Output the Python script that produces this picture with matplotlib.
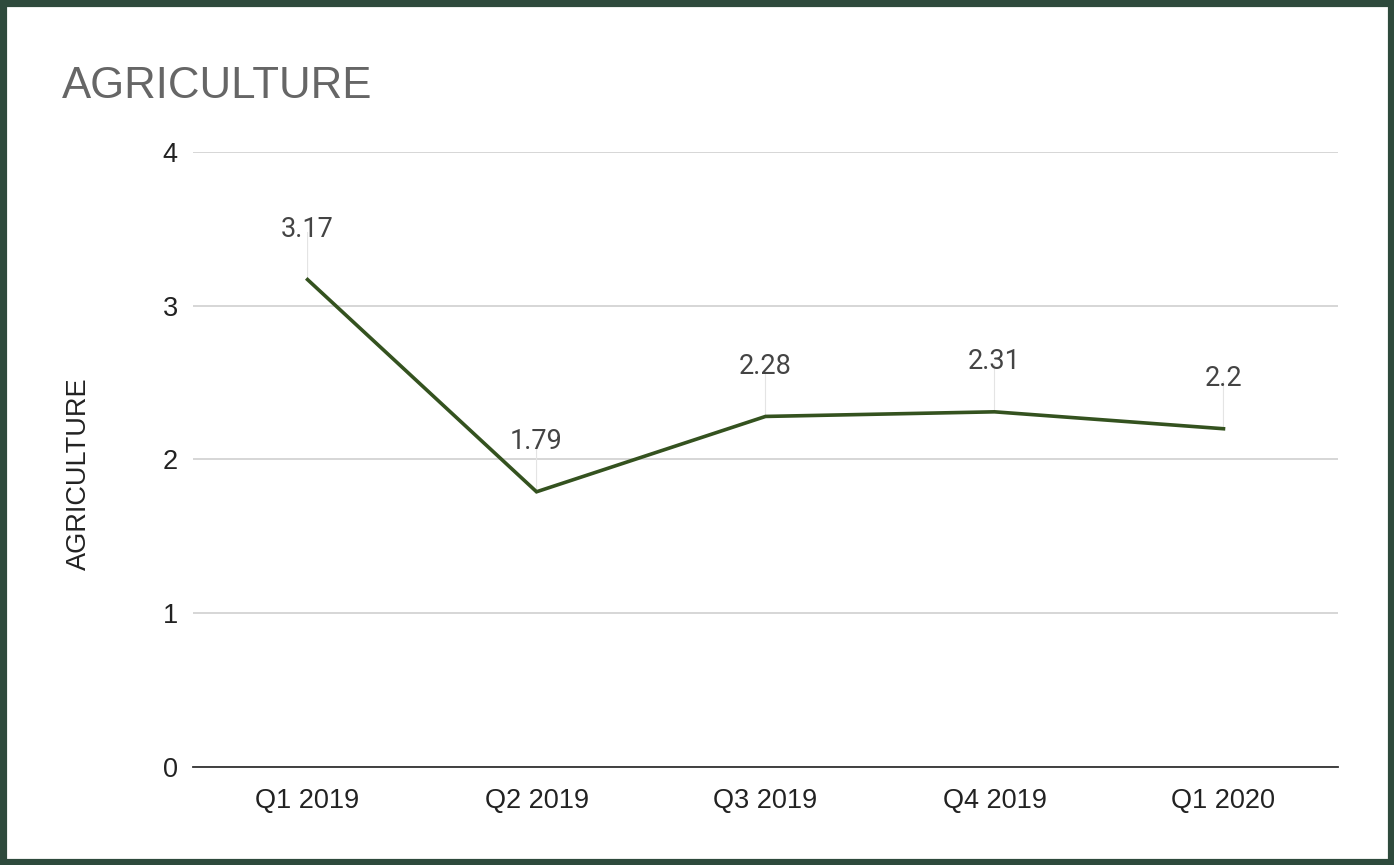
import matplotlib.pyplot as plt
from matplotlib.patches import Rectangle

# quarterly values
quarters = ['Q1 2019', 'Q2 2019', 'Q3 2019', 'Q4 2019', 'Q1 2020']
agriculture = [3.17, 1.79, 2.28, 2.31, 2.2]
value_labels = ['3.17', '1.79', '2.28', '2.31', '2.2']
y_ticks = [0, 1, 2, 3, 4]

line_color = '#34521f'
text_color = '#444444'
frame_color = '#2e4a3c'

plt.rcParams['font.family'] = ['Liberation Sans', 'DejaVu Sans']

fig = plt.figure(figsize=(13.94, 8.65), dpi=100)
ax = fig.add_axes([0.1385, 0.1133, 0.8213, 0.711])

x = list(range(len(quarters)))
ax.plot(x, agriculture, color=line_color, linewidth=2.6, solid_joinstyle='miter', zorder=3)

# value labels with thin leader lines
for xi, v, lab in zip(x, agriculture, value_labels):
    ax.annotate('', xy=(xi, v), xytext=(0, 34), textcoords='offset points',
                arrowprops=dict(arrowstyle='-', color='#e4e4e4', lw=0.8,
                                shrinkA=0, shrinkB=0), zorder=1)
    ax.annotate(lab, xy=(xi, v), xytext=(0, 36), textcoords='offset points',
                ha='center', va='center', fontsize=19.5, color=text_color,
                family=['Roboto', 'DejaVu Sans'])

ax.set_xlim(-0.5, len(quarters) - 0.5)
ax.set_ylim(0, 4)
ax.set_xticks(x)
ax.set_xticklabels(quarters)
ax.set_yticks(y_ticks)
ax.tick_params(axis='both', length=0, labelsize=19.5, colors='#222222')
ax.tick_params(axis='y', pad=11)
ax.tick_params(axis='x', pad=15)

ax.grid(axis='y', color='#cccccc', linewidth=1.1)
ax.set_axisbelow(True)
for side in ['top', 'right', 'left']:
    ax.spines[side].set_visible(False)
ax.spines['bottom'].set_color('#333333')
ax.spines['bottom'].set_linewidth(1.3)

ax.set_ylabel('AGRICULTURE', fontsize=19.5, color='#222222')
ax.yaxis.set_label_coords(-0.0886, 0.477)

fig.text(0.0445, 0.9005, 'AGRICULTURE', fontsize=31.5, color='#666666',
         ha='left', va='center')

# dark frame around the chart
fig.patches.append(Rectangle((0, 0), 1, 1, transform=fig.transFigure,
                             fill=False, edgecolor=frame_color, linewidth=9.5))

fig.savefig('out.png', dpi=100, facecolor='white')
